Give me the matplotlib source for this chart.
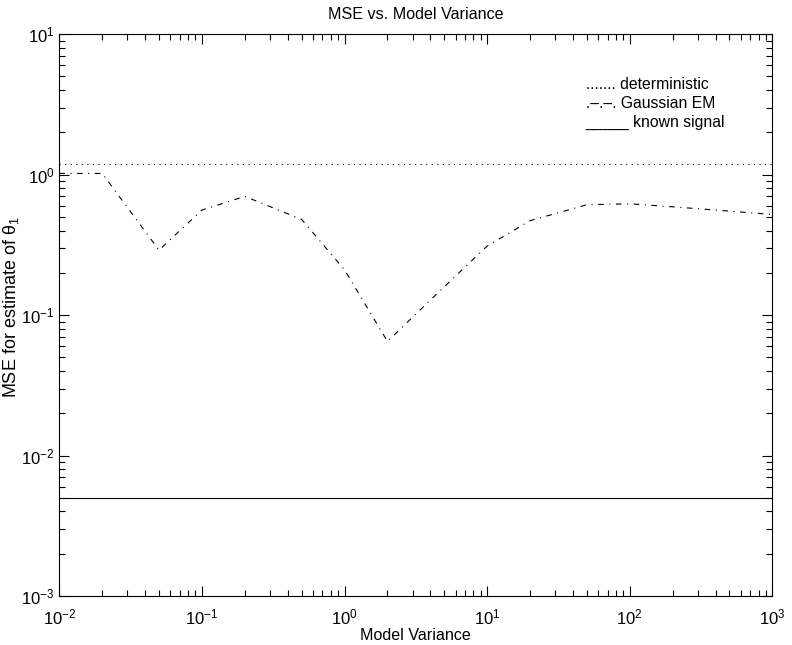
import matplotlib
matplotlib.use("Agg")
import matplotlib.pyplot as plt
import numpy as np
from matplotlib.ticker import LogLocator, NullFormatter

plt.rcParams['font.family'] = ['Liberation Sans', 'DejaVu Sans']
plt.rcParams['mathtext.default'] = 'regular'

variance = [0.01, 0.02, 0.05, 0.1, 0.2, 0.5, 1, 2, 5, 10, 20, 50, 100, 200, 500, 1000]
mse_em = [1.02, 1.02, 0.29, 0.56, 0.70, 0.48, 0.21, 0.065, 0.159, 0.31, 0.47, 0.61, 0.62, 0.59, 0.55, 0.52]
mse_det = 1.19
mse_known = 0.005

fig = plt.figure(figsize=(7.92, 6.45), dpi=100)
ax = fig.add_axes([0.0749, 0.076, 0.9003, 0.871])

ax.plot([variance[0], variance[-1]], [mse_det, mse_det], color='black', lw=0.8,
        linestyle=(0, (1, 4)))
ax.plot(variance, mse_em, color='black', lw=0.8, linestyle=(0, (5, 5, 1, 5)))
ax.plot([variance[0], variance[-1]], [mse_known, mse_known], color='black', lw=0.8)

ax.set_xscale('log')
ax.set_yscale('log')
ax.set_xlim(1e-2, 1e3)
ax.set_ylim(1e-3, 1e1)

ax.xaxis.set_major_locator(LogLocator(base=10, numticks=10))
ax.yaxis.set_major_locator(LogLocator(base=10, numticks=10))
ax.xaxis.set_minor_locator(LogLocator(base=10, subs=np.arange(2, 10), numticks=20))
ax.yaxis.set_minor_locator(LogLocator(base=10, subs=np.arange(2, 10), numticks=20))
ax.xaxis.set_minor_formatter(NullFormatter())
ax.yaxis.set_minor_formatter(NullFormatter())
ax.tick_params(which='both', direction='in', top=True, right=True, labelsize=12)
ax.tick_params(which='major', length=7, width=0.8)
ax.tick_params(which='minor', length=4, width=0.8)
ax.tick_params(axis='x', pad=8)
for s in ax.spines.values():
    s.set_linewidth(0.8)

ax.set_title('MSE vs. Model Variance', fontsize=11.6, pad=11)
ax.set_xlabel('Model Variance', fontsize=11.6, labelpad=1)
ax.set_ylabel(r'MSE for estimate of $\theta_1$', fontsize=13)
ax.yaxis.set_label_coords(-0.054, 0.514)

legend_lines = ['....... deterministic', '.\u2013.\u2013. Gaussian EM', '_____ known signal']
for i, t in enumerate(legend_lines):
    ax.text(0.738, 0.911 - i * 0.034, t, transform=ax.transAxes, fontsize=11.3,
            ha='left', va='center')

fig.savefig('out.png', dpi=100)
